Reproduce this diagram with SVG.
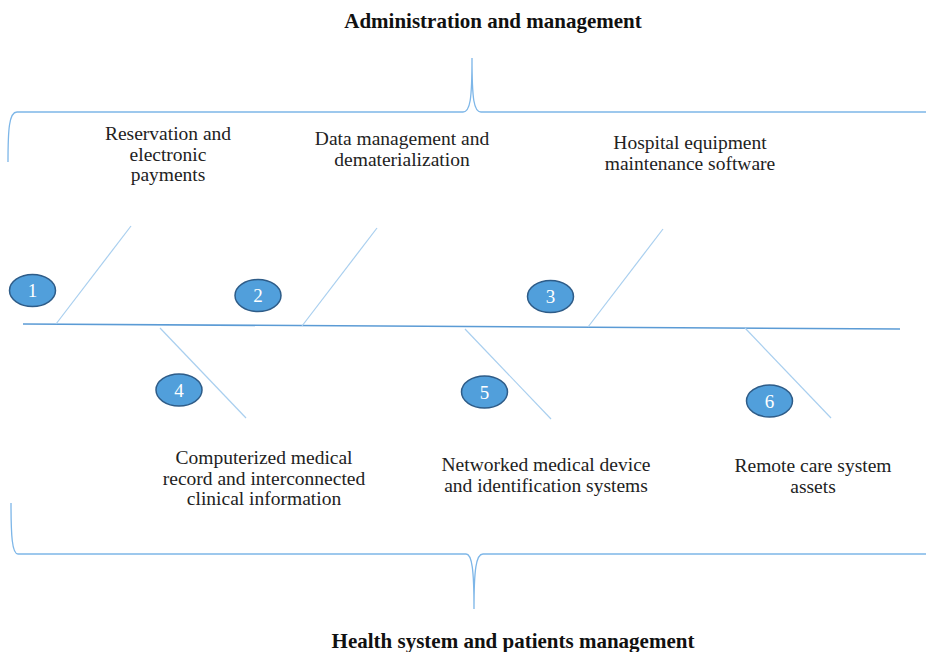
<svg xmlns="http://www.w3.org/2000/svg" width="926" height="652" viewBox="0 0 926 652">
<style>
.t{font-family:"Liberation Serif","Times New Roman",serif;font-size:19.5px;fill:#222;text-anchor:middle}
.h{font-family:"Liberation Serif","Times New Roman",serif;font-size:21px;font-weight:bold;fill:#111;text-anchor:middle}
.brace{fill:none;stroke:#7DB6E8;stroke-width:1.3}
.rib{stroke:#A9CFEF;stroke-width:1.2;fill:none}
.spine{stroke:#5B9BD5;stroke-width:1.6;fill:none}
.num ellipse{fill:#519FDB;stroke:#2E5C88;stroke-width:1.5}
.num text{font-family:"Liberation Serif","Times New Roman",serif;font-size:19px;fill:#fff;text-anchor:middle}
</style>
<g id="connectors">
<path class="brace" d="M8 162 C8 130 9 112 17 112 L463 112 C470 112 472 100 472 58 C472 100 474 112 481 112 L926 112"/>
<path class="brace" d="M11 503 C11 535 12 554 18 554 L466 554 C472 554 474 570 474 609 C474 570 476 554 483 554 L926 554"/>
<path class="spine" d="M23 324 L900 329"/>
<line class="rib" x1="56" y1="324" x2="131" y2="226"/>
<line class="rib" x1="302" y1="326" x2="377" y2="228"/>
<line class="rib" x1="588" y1="327" x2="663" y2="229"/>
<line class="rib" x1="160" y1="328" x2="246" y2="418"/>
<line class="rib" x1="465" y1="329" x2="551" y2="419"/>
<line class="rib" x1="745" y1="328" x2="831" y2="418"/>
</g>
<g id="title-top"><text class="h" x="493" y="28">Administration and management</text></g>
<g id="title-bottom"><text class="h" x="513" y="648">Health system and patients management</text></g>
<g id="label1"><text class="t" x="168" y="140">Reservation and<tspan x="168" dy="20.5">electronic</tspan><tspan x="168" dy="20.5">payments</tspan></text></g>
<g id="label2"><text class="t" x="402" y="145">Data management and<tspan x="402" dy="20.5">dematerialization</tspan></text></g>
<g id="label3"><text class="t" x="690" y="149">Hospital equipment<tspan x="690" dy="20.5">maintenance software</tspan></text></g>
<g id="label4"><text class="t" x="264" y="464">Computerized medical<tspan x="264" dy="20.5">record and interconnected</tspan><tspan x="264" dy="20.5">clinical information</tspan></text></g>
<g id="label5"><text class="t" x="546" y="471">Networked medical device<tspan x="546" dy="20.5">and identification systems</tspan></text></g>
<g id="label6"><text class="t" x="813" y="472">Remote care system<tspan x="813" dy="20.5">assets</tspan></text></g>
<g id="n1" class="num"><ellipse cx="32.5" cy="290.5" rx="23" ry="16"/><text x="32.5" y="297">1</text></g>
<g id="n2" class="num"><ellipse cx="258" cy="295.5" rx="23" ry="16"/><text x="258" y="302">2</text></g>
<g id="n3" class="num"><ellipse cx="550.5" cy="296.5" rx="23" ry="16"/><text x="550.5" y="303">3</text></g>
<g id="n4" class="num"><ellipse cx="179" cy="390" rx="23" ry="16"/><text x="179" y="396.5">4</text></g>
<g id="n5" class="num"><ellipse cx="484.5" cy="392" rx="23" ry="16"/><text x="484.5" y="398.5">5</text></g>
<g id="n6" class="num"><ellipse cx="769.5" cy="401" rx="23" ry="16"/><text x="769.5" y="407.5">6</text></g>
</svg>
